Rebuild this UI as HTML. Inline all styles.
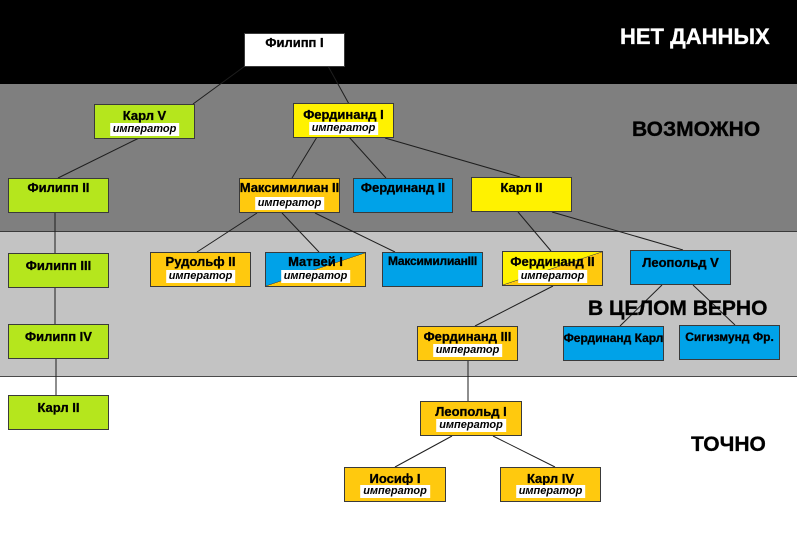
<!DOCTYPE html>
<html><head><meta charset="utf-8">
<style>
html,body{margin:0;padding:0}
body{width:797px;height:534px;position:relative;overflow:hidden;background:#fff;font-family:"Liberation Sans","Noto Sans CJK SC",sans-serif}
.band{position:absolute;left:0;width:797px}
.b{position:absolute;width:101px;height:35px;box-sizing:border-box;border:1px solid #3a3a3a;text-align:center;font-weight:bold;font-size:13px;color:#000}
.n{position:absolute;left:-4px;right:-4px;top:3px;line-height:16px;white-space:nowrap;-webkit-text-stroke:0.3px #000}
.e{position:absolute;top:18px;left:50%;transform:translateX(-50%);background:#fff;font-style:italic;font-weight:bold;font-size:11px;line-height:13px;padding:0 3px;white-space:nowrap}
.g{background:#b5e61d}
.y{background:#fff200}
.o{background:#ffc90e}
.bl{background:#00a2e8}
.w{background:#fff}
.lbl{position:absolute;font-weight:bold;white-space:nowrap;-webkit-text-stroke:0.3px currentColor}
</style></head><body>
<div class="band" style="top:0;height:84px;background:#000"></div>
<div class="band" style="top:84px;height:147px;background:#7f7f7f"></div>
<div class="band" style="top:231px;height:146px;background:#c3c3c3;border-top:1px solid #3a3a3a;border-bottom:1px solid #4a4a4a;box-sizing:border-box"></div>

<svg width="797" height="534" style="position:absolute;left:0;top:0" xmlns="http://www.w3.org/2000/svg">
<g stroke="#1e1e1e" stroke-width="1" fill="none">
<line x1="245" y1="66" x2="193" y2="104"/>
<line x1="328" y1="66" x2="349" y2="104"/>
<line x1="139" y1="138" x2="58" y2="178"/>
<line x1="317" y1="137" x2="292" y2="178"/>
<line x1="349" y1="137" x2="386" y2="178"/>
<line x1="385" y1="138" x2="520" y2="177"/>
<line x1="55" y1="212" x2="55" y2="253"/>
<line x1="55" y1="287" x2="55" y2="324"/>
<line x1="56" y1="358" x2="56" y2="395"/>
<line x1="257" y1="213" x2="197" y2="252"/>
<line x1="282" y1="213" x2="319" y2="252"/>
<line x1="315" y1="213" x2="395" y2="252"/>
<line x1="518" y1="212" x2="551" y2="251"/>
<line x1="552" y1="212" x2="683" y2="250"/>
<line x1="553" y1="286" x2="475" y2="326"/>
<line x1="662" y1="285" x2="620" y2="326"/>
<line x1="693" y1="285" x2="735" y2="325"/>
<line x1="468" y1="361" x2="468" y2="401"/>
<line x1="452" y1="436" x2="395" y2="467"/>
<line x1="493" y1="436" x2="555" y2="467"/>
</g>
</svg>

<div class="lbl" style="left:620px;top:26px;font-size:22px;line-height:22px;color:#fff">НЕТ ДАННЫХ</div>
<div class="lbl" style="left:632px;top:119px;font-size:21px;line-height:21px;color:#000">ВОЗМОЖНО</div>

<!-- level 0 -->
<div class="b w" style="left:244px;top:33px;height:34px"><div class="n" style="top:1px">Филипп I</div></div>

<!-- level 1 -->
<div class="b g" style="left:94px;top:104px"><div class="n">Карл V</div><div class="e">император</div></div>
<div class="b y" style="left:293px;top:103px"><div class="n">Фердинанд I</div><div class="e">император</div></div>

<!-- level 2 -->
<div class="b g" style="left:8px;top:178px"><div class="n" style="top:1px">Филипп II</div></div>
<div class="b o" style="left:239px;top:178px"><div class="n" style="top:1px">Максимилиан II</div><div class="e">император</div></div>
<div class="b bl" style="left:353px;top:178px;width:100px"><div class="n" style="top:1px">Фердинанд II</div></div>
<div class="b y" style="left:471px;top:177px"><div class="n" style="top:2px">Карл II</div></div>

<!-- level 3 -->
<div class="b g" style="left:8px;top:253px"><div class="n" style="top:4px">Филипп III</div></div>
<div class="b o" style="left:150px;top:252px"><div class="n" style="top:1px">Рудольф II</div><div class="e" style="top:17px">император</div></div>
<div class="b" style="left:265px;top:252px;background:linear-gradient(to bottom right,#00a2e8 49.3%,#444 49.6%,#444 50.2%,#ffc90e 50.5%)"><div class="n" style="top:1px">Матвей I</div><div class="e" style="top:17px">император</div></div>
<div class="b bl" style="left:382px;top:252px"><div class="n" style="top:0px;font-size:12px;letter-spacing:-0.2px">МаксимилианIII</div></div>
<div class="b" style="left:502px;top:251px;background:linear-gradient(to bottom right,#fff200 49.3%,#444 49.6%,#444 50.2%,#ffc90e 50.5%)"><div class="n" style="top:2px">Фердинанд II</div><div class="e">император</div></div>
<div class="b bl" style="left:630px;top:250px"><div class="n" style="top:4px">Леопольд V</div></div>

<!-- level 4 -->
<div class="b g" style="left:8px;top:324px"><div class="n" style="top:4px">Филипп IV</div></div>
<div class="b o" style="left:417px;top:326px"><div class="n" style="top:2px">Фердинанд III</div><div class="e" style="top:17px">император</div></div>
<div class="b bl" style="left:563px;top:326px"><div class="n" style="top:3px;font-size:12px">Фердинанд Карл</div></div>
<div class="b bl" style="left:679px;top:325px"><div class="n" style="top:3px;font-size:12px">Сигизмунд Фр.</div></div>

<div class="lbl" style="left:588px;top:298px;font-size:21px;line-height:21px;color:#000">В ЦЕЛОМ ВЕРНО</div>

<!-- level 5 -->
<div class="b g" style="left:8px;top:395px"><div class="n" style="top:4px">Карл II</div></div>
<div class="b o" style="left:420px;top:401px;width:102px"><div class="n" style="top:2px">Леопольд I</div><div class="e" style="top:17px">император</div></div>

<!-- level 6 -->
<div class="b o" style="left:344px;top:467px;width:102px"><div class="n" style="top:3px">Иосиф I</div><div class="e" style="top:17px">император</div></div>
<div class="b o" style="left:500px;top:467px"><div class="n" style="top:3px">Карл IV</div><div class="e" style="top:17px">император</div></div>

<div class="lbl" style="left:691px;top:434px;font-size:21px;line-height:21px;color:#000">ТОЧНО</div>
</body></html>
